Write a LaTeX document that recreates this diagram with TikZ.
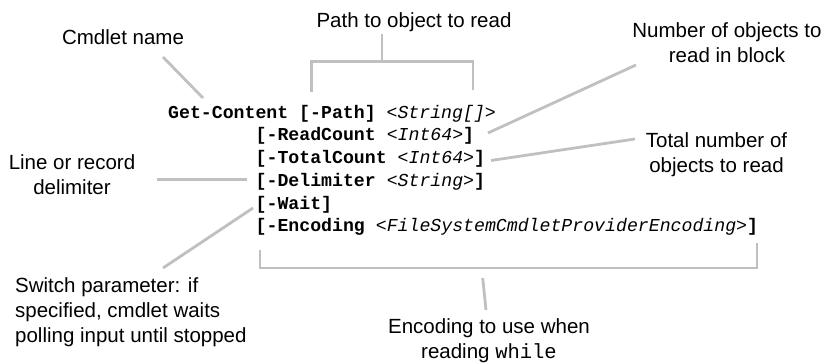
\documentclass[tikz,border=0pt]{standalone}
\usepackage{fontspec}
\setmainfont{Liberation Sans}
\newfontfamily\codefont{Liberation Mono}
\definecolor{linegray}{RGB}{192,192,192}
\tikzset{
  callout/.style={draw=linegray, line width=2.8pt},
  lbl/.style={font=\fontsize{20.5}{25}\selectfont, align=center, inner sep=0pt, anchor=base},
  code/.style={font=\codefont\fontsize{18.2}{22.7}\selectfont, inner sep=0pt, anchor=base west},
}
\begin{document}
\begin{tikzpicture}[x=1pt,y=-1pt]
\useasboundingbox (0,0) rectangle (828,363);
% labels (base anchor = baseline of the last line)
\node[lbl] (cmdname) at (123,45) {Cmdlet name};
\node[lbl] (pathlbl) at (414,28) {Path to object to read};
\node[lbl] (numlbl) at (727,63) {Number of objects to\\read in block};
\node[lbl] (totlbl) at (716.5,172.5) {Total number of\\objects to read};
\node[lbl] (delimlbl) at (72,195) {Line or record\\delimiter};
\node[lbl, align=left, anchor=base west] (waitlbl) at (15,343) {Switch parameter: if\\specified, cmdlet waits\\polling input until stopped};
\node[lbl] (enclbl) at (489,359) {Encoding to use when\\reading {\codefont while}};
% code
\node[code] (c1) at (168,118.3) {\textbf{Get-Content [-Path]} \textit{<String[]>}};
\node[code] (c2) at (255.5,141) {\textbf{[-ReadCount} \textit{<Int64>}\textbf{]}};
\node[code] (c3) at (255.5,163.7) {\textbf{[-TotalCount} \textit{<Int64>}\textbf{]}};
\node[code] (c4) at (255.5,186.4) {\textbf{[-Delimiter} \textit{<String>}\textbf{]}};
\node[code] (c5) at (255.5,209.1) {\textbf{[-Wait]}};
\node[code] (c6) at (255.5,231.8) {\textbf{[-Encoding} \textit{<FileSystemCmdletProviderEncoding>}\textbf{]}};
% connector points
\coordinate (cmdA) at (163,57);
\coordinate (cmdB) at (203,98);
\coordinate (numA) at (636,65);
\coordinate (numB) at (488,133);
\coordinate (totA) at (635,139);
\coordinate (totB) at (491,160.5);
\coordinate (delA) at (157,179.5);
\coordinate (delB) at (247,179.5);
\coordinate (waitA) at (163,268);
\coordinate (waitB) at (253,208);
\coordinate (pathL) at (311.7,91.7);
\coordinate (pathR) at (473,90);
\coordinate (pathTop) at (382,34);
\coordinate (pathMid) at (382,61.7);
\coordinate (encL) at (260,250);
\coordinate (encR) at (757,243);
\coordinate (encMid) at (480,268);
\coordinate (encA) at (482.7,278);
\coordinate (encB) at (486,310);
% connectors
\draw[callout] (cmdA) -- (cmdB);
\draw[callout] (numA) -- (numB);
\draw[callout] (totA) -- (totB);
\draw[callout] (delA) -- (delB);
\draw[callout] (waitA) -- (waitB);
\draw[callout] (pathL) |- (pathMid) -| (pathR);
\draw[callout] (pathTop) -- (pathMid);
\draw[callout] (encL) |- (encMid) -| (encR);
\draw[callout] (encA) -- (encB);
\end{tikzpicture}
\end{document}
